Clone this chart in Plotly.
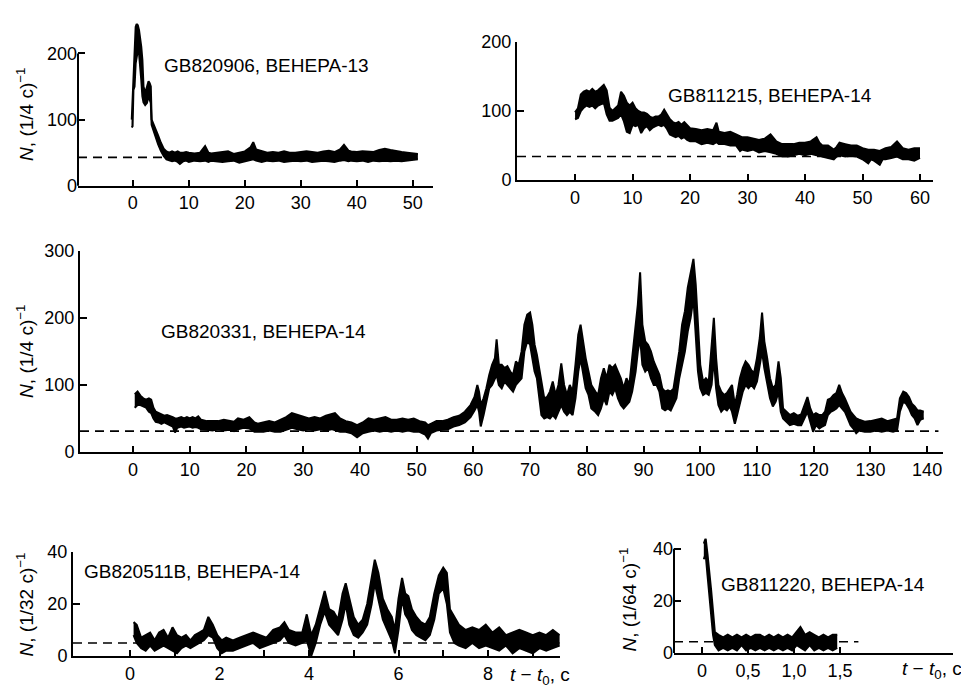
import plotly.graph_objects as go

# ---------------- data ----------------
# Panel 1: GB820906, ВЕНЕРА-13  (band: lower / upper envelope of the count rate)
T1 = [-0.2, -0.05, 0.1, 0.3, 0.5, 0.7, 0.9, 1.1, 1.3, 1.5,
      1.7, 1.9, 2.2, 2.5, 2.8, 3.0, 3.2, 3.35, 3.6, 4.0,
      4.5, 5.0, 5.5, 6.0, 6.5, 7.0, 7.5, 8.0, 8.4, 9.0,
      9.5, 10, 11, 12, 12.9, 13.5, 14, 15, 16, 17,
      18, 19, 20, 21, 21.5, 22, 23, 24, 25, 26,
      27, 28, 29, 30, 31, 32, 33, 34, 35, 36,
      37, 37.7, 38.5, 39, 40, 41, 42, 43, 44, 45,
      46, 47, 48, 49, 50, 50.9]
LO1 = [88, 90, 145, 150, 185, 200, 205, 200, 185, 160,
       135, 126, 122, 125, 135, 128, 125, 92, 85, 76,
       63, 53, 45, 40, 38, 37, 38, 36, 33, 37,
       38, 36, 38, 37, 38, 36, 38, 37, 36, 37,
       38, 35, 37, 38, 40, 38, 36, 38, 37, 38,
       36, 37, 38, 37, 38, 36, 37, 38, 37, 36,
       38, 39, 37, 38, 37, 38, 36, 38, 37, 38,
       37, 38, 37, 38, 38, 40]
HI1 = [100, 150, 160, 200, 240, 245, 242, 235, 225, 210,
       190, 150, 140, 148, 158, 155, 150, 100, 95, 88,
       76, 65, 56, 52, 50, 52, 50, 52, 50, 50,
       51, 50, 49, 50, 60, 50, 49, 50, 51, 52,
       48, 50, 52, 58, 66, 55, 52, 50, 51, 50,
       52, 50, 50, 51, 52, 51, 50, 52, 53, 51,
       55, 62, 53, 52, 51, 52, 52, 51, 54, 56,
       54, 52, 51, 50, 49, 48]
BG1 = 43

# Panel 2: GB811215, ВЕНЕРА-14
T2 = [0.0, 0.5, 1.0, 1.5, 2.0, 2.5, 3.0, 3.5, 4.0, 4.5,
      5.0, 5.5, 6.0, 6.5, 7.0, 7.5, 8.0, 8.5, 9.0, 9.5,
      10.0, 10.5, 11.0, 11.5, 12.0, 12.5, 13.0, 13.5, 14.0, 14.5,
      15.0, 15.5, 16.0, 16.5, 17.0, 17.5, 18.0, 18.5, 19.0, 19.5,
      20, 21, 22, 23, 24, 24.6, 25, 26, 27, 28,
      28.7, 29, 30, 31, 32, 33, 34, 35, 36, 37,
      38, 39, 40, 41, 42, 42.5, 43, 44, 45, 45.5,
      46, 47, 48, 49, 50, 51, 51.5, 52, 53, 53.5,
      54, 55, 56, 57, 58, 59, 60]
LO2 = [88, 90, 100, 105, 108, 106, 108, 104, 108, 110,
       112, 95, 86, 86, 88, 90, 95, 85, 70, 68,
       80, 78, 80, 68, 75, 78, 72, 76, 78, 80,
       78, 80, 74, 66, 64, 62, 64, 60, 62, 58,
       56, 56, 52, 54, 52, 55, 52, 52, 50, 50,
       42, 44, 42, 44, 40, 42, 40, 38, 34, 34,
       36, 38, 36, 38, 36, 36, 34, 32, 30, 34,
       36, 34, 35, 34, 30, 24, 30, 28, 22, 30,
       30, 32, 34, 30, 30, 28, 32]
HI2 = [98, 104, 124, 128, 130, 128, 132, 128, 130, 134,
       138, 130, 105, 100, 104, 108, 128, 122, 112, 108,
       112, 104, 100, 98, 98, 96, 92, 90, 92, 92,
       95, 102, 95, 88, 84, 82, 84, 80, 84, 80,
       75, 74, 72, 74, 72, 83, 70, 68, 70, 66,
       64, 62, 62, 60, 58, 60, 66, 56, 52, 52,
       52, 54, 54, 56, 62, 54, 50, 50, 44, 48,
       54, 52, 50, 50, 46, 44, 44, 44, 42, 44,
       46, 48, 56, 46, 44, 46, 46]
BG2 = 34

# Panel 3: GB820331, ВЕНЕРА-14
T3 = [0.3, 0.8, 1.3, 1.8, 2.3, 2.8, 3.2, 3.6, 4.0, 4.5,
      5.0, 5.5, 6.0, 6.5, 7.0, 7.4, 7.8, 8.5, 9.0, 9.5,
      10.0, 10.5, 11.0, 11.5, 12.0, 13, 14, 15, 16, 17,
      17.8, 18.5, 19.5, 20.5, 21.4, 22, 23, 24, 25, 26,
      27, 28, 29, 30, 31, 32, 33, 34, 35, 35.6,
      36.5, 37.5, 38.5, 39.5, 40.5, 41.5, 42.5, 43.5, 44.5, 45.5,
      46.5, 47.5, 48.5, 49.5, 50.5, 51.5, 52.0, 52.5, 53.5, 54.5,
      55.5, 56.5, 57.5, 58.5, 59.5, 60.2, 60.7, 61.0, 61.3, 61.8,
      62.3, 62.8, 63.3, 63.8, 64.1, 64.5, 65.0, 65.5, 66.0, 66.5,
      67.0, 67.5, 68.0, 68.5, 69.0, 69.5, 70.0, 70.4, 70.8, 71.2,
      71.6, 72.0, 72.5, 73.0, 73.5, 74.0, 74.5, 75.0, 75.5, 76.0,
      76.5, 77.0, 77.5, 78.0, 78.5, 78.9, 79.3, 79.8, 80.3, 80.8,
      81.5, 82.0, 82.5, 83.0, 83.5, 84.0, 84.5, 85.0, 85.5, 86.0,
      86.5, 87.0, 87.5, 88.0, 88.6, 89.0, 89.4, 89.8, 90.3, 90.8,
      91.3, 91.8, 92.3, 92.8, 93.3, 93.8, 94.3, 94.8, 95.3, 95.8,
      96.3, 96.8, 97.3, 97.8, 98.3, 98.8, 99.2, 99.6, 100.0, 100.5,
      101.0, 101.5, 102.0, 102.4, 102.8, 103.2, 103.7, 104.2, 104.7, 105.2,
      105.6, 106.1, 106.5, 107.0, 107.5, 108.0, 108.5, 109.0, 109.5, 110.0,
      110.5, 110.9, 111.3, 111.8, 112.3, 112.8, 113.3, 113.8, 114.2, 114.6,
      115.2, 115.8, 116.5, 117.2, 117.8, 118.4, 118.9, 119.4, 119.9, 120.4,
      121.0, 121.5, 122.0, 122.5, 123.0, 123.5, 124.0, 124.5, 125.0, 125.5,
      126.0, 126.5, 127.0, 127.5, 128.0, 129.0, 130.0, 131.0, 132.0, 133.0,
      134.0, 134.7, 135.2, 135.8, 136.3, 136.8, 137.3, 137.8, 138.3, 138.8,
      139.4]
LO3 = [66, 70, 70, 68, 66, 60, 58, 50, 45, 44,
       42, 44, 42, 40, 38, 29, 36, 38, 36, 37,
       38, 36, 37, 36, 34, 33, 32, 34, 32, 33,
       31, 34, 36, 35, 30, 30, 30, 32, 30, 30,
       33, 36, 34, 32, 34, 32, 34, 32, 34, 32,
       30, 30, 28, 22, 28, 30, 32, 30, 32, 30,
       32, 30, 32, 30, 30, 26, 20, 28, 32, 33,
       34, 38, 40, 44, 52, 62, 70, 60, 38, 55,
       75, 95, 100, 110, 115, 100, 95, 105, 100, 95,
       90, 100, 105, 110, 150, 165, 160, 140, 120, 110,
       85, 55, 50, 52, 50, 55, 50, 60, 70, 60,
       55, 60, 55, 80, 120, 140, 120, 95, 85, 65,
       60, 55, 65, 80, 70, 90, 85, 95, 80, 70,
       65, 70, 75, 90, 120, 150, 170, 130, 120, 125,
       110, 100, 100, 90, 65, 62, 65, 62, 70, 80,
       110, 130, 150, 180, 200, 230, 170, 120, 95, 85,
       88, 85, 100, 140, 95, 70, 60, 65, 62, 68,
       60, 42, 55, 75, 90, 100, 95, 100, 95, 105,
       130, 150, 125, 100, 80, 68, 75, 90, 60, 50,
       45, 40, 42, 40, 40, 50, 60, 45, 30, 40,
       35, 38, 40, 55, 60, 62, 65, 70, 65, 60,
       50, 40, 35, 28, 32, 30, 30, 32, 30, 32,
       30, 32, 60, 75, 72, 65, 55, 50, 40, 48,
       50]
HI3 = [86, 90, 84, 80, 78, 80, 78, 66, 60, 58,
       56, 54, 55, 54, 52, 50, 50, 52, 50, 52,
       50, 52, 50, 53, 48, 46, 46, 46, 48, 46,
       45, 50, 48, 52, 44, 42, 44, 46, 44, 48,
       52, 58, 55, 52, 50, 52, 50, 54, 56, 58,
       50, 46, 44, 40, 44, 50, 48, 50, 52, 48,
       48, 50, 48, 50, 46, 44, 40, 42, 46, 46,
       48, 52, 54, 60, 70, 82, 100, 90, 70, 80,
       95, 115, 130, 140, 168, 130, 130, 125, 128, 120,
       115, 135, 130, 150, 190, 205, 208, 190, 160, 145,
       125, 100, 80, 82, 90, 105, 85, 100, 132, 100,
       85, 100, 90, 130, 175, 190, 165, 140, 120, 100,
       90, 85, 110, 125, 110, 130, 125, 130, 120, 110,
       95, 110, 100, 140, 180, 220, 268, 190, 165, 160,
       150, 135, 125, 115, 95, 90, 92, 90, 95, 120,
       150, 190, 210, 245, 265, 288, 250, 185, 130, 105,
       110, 105, 160, 200, 140, 100, 90, 85, 88, 95,
       100, 70, 85, 110, 125, 135, 130, 122, 118, 140,
       170, 208, 165, 140, 110, 95, 100, 135, 110, 65,
       60, 55, 58, 54, 56, 72, 82, 65, 55, 58,
       55, 55, 60, 78, 80, 85, 88, 100, 88, 80,
       70, 60, 55, 50, 48, 45, 46, 48, 50, 46,
       48, 50, 80, 90, 88, 82, 72, 68, 62, 62,
       60]
BG3 = 31

# Panel 4: GB820511B, ВЕНЕРА-14
T4 = [0.08, 0.15, 0.25, 0.35, 0.45, 0.55, 0.65, 0.75, 0.85, 0.95,
      1.05, 1.15, 1.25, 1.35, 1.45, 1.55, 1.65, 1.75, 1.85, 1.95,
      2.05, 2.15, 2.3, 2.45, 2.6, 2.75, 2.9, 3.05, 3.2, 3.35,
      3.45, 3.55, 3.7, 3.85, 3.95, 4.05, 4.15, 4.25, 4.35, 4.45,
      4.55, 4.65, 4.75, 4.82, 4.9, 5.0, 5.1, 5.2, 5.3, 5.4,
      5.47, 5.55, 5.65, 5.75, 5.85, 5.92, 6.0, 6.08, 6.15, 6.22,
      6.3, 6.4, 6.5, 6.6, 6.7, 6.8, 6.9, 7.0, 7.08, 7.15,
      7.25, 7.35, 7.5, 7.65, 7.8, 7.95, 8.1, 8.25, 8.4, 8.55,
      8.7, 8.85, 9.0, 9.15, 9.3, 9.45, 9.6]
LO4 = [8, 5, 3, 2, 4, 2, 3, 4, 3, 2,
       1, 3, 4, 3, 4, 5, 6, 8, 7, 3,
       1, 2, 2, 3, 4, 5, 3, 4, 5, 6,
       8, 5, 4, 5, 6, 0, 5, 12, 17, 12,
       10, 8, 14, 20, 12, 8, 7, 9, 12, 20,
       28, 22, 14, 10, 6, 1, 10, 22, 16, 14,
       10, 8, 7, 6, 8, 14, 24, 26, 20, 9,
       5, 4, 3, 5, 3, 4, 3, 2, 4, 1,
       3, 2, 1, 3, 2, 3, 4]
HI4 = [13, 12, 7, 8, 9, 6, 9, 10, 7, 11,
       8, 7, 8, 6, 8, 9, 10, 15, 12, 8,
       6, 7, 6, 7, 8, 9, 8, 7, 10, 11,
       13, 10, 9, 9, 16, 8, 12, 19, 25, 18,
       17, 14, 24, 28, 22, 15, 12, 14, 20, 30,
       37, 32, 22, 18, 15, 10, 22, 30, 24, 23,
       18, 15, 13, 12, 15, 24, 31, 34, 32, 18,
       15, 12, 10, 11, 10, 12, 9, 11, 8, 9,
       10, 9, 8, 9, 8, 10, 8]
BG4 = 5

# Panel 5: GB811220, ВЕНЕРА-14
T5 = [0.02, 0.04, 0.06, 0.08, 0.10, 0.12, 0.14, 0.18, 0.23, 0.28,
      0.33, 0.38, 0.43, 0.48, 0.53, 0.58, 0.63, 0.68, 0.73, 0.78,
      0.83, 0.88, 0.93, 0.98, 1.03, 1.07, 1.12, 1.17, 1.22, 1.27,
      1.32, 1.37, 1.42, 1.47]
LO5 = [36, 38, 30, 22, 14, 7, 3, 1, 2, 1,
       2, 1, 3, 1, 2, 1, 2, 1, 2, 1,
       2, 1, 2, 1, 3, 2, 1, 3, 1, 2,
       1, 2, 1, 2]
HI5 = [42, 44, 38, 32, 24, 16, 8, 7, 6, 7,
       6, 7, 6, 7, 6, 7, 7, 6, 7, 6,
       7, 6, 7, 6, 8, 10, 7, 8, 7, 6,
       7, 6, 7, 7]
BG5 = 4.3

TITLES = ["GB820906, ВЕНЕРА-13", "GB811215, ВЕНЕРА-14", "GB820331, ВЕНЕРА-14",
          "GB820511B, ВЕНЕРА-14", "GB811220, ВЕНЕРА-14"]
YTITLES = ["<i>N</i>, (1/4 c)<sup>−1</sup>", None, "<i>N</i>, (1/4 c)<sup>−1</sup>",
           "<i>N</i>, (1/32 c)<sup>−1</sup>", "<i>N</i>, (1/64 c)<sup>−1</sup>"]
XTICKS1 = [0, 10, 20, 30, 40, 50]
XTICKS2 = [0, 10, 20, 30, 40, 50, 60]
XTICKS3 = [0, 10, 20, 30, 40, 50, 60, 70, 80, 90, 100, 110, 120, 130, 140]
XTICKS4 = [0, 2, 4, 6, 8]
XMINOR4 = [1, 3, 5, 7, 9]
XTICKS5 = [0, 0.5, 1.0, 1.5]
XTEXT5 = ["0", "0,5", "1,0", "1,5"]

for a, b, c in [(T1, LO1, HI1), (T2, LO2, HI2), (T3, LO3, HI3), (T4, LO4, HI4), (T5, LO5, HI5)]:
    assert len(a) == len(b) == len(c), (len(a), len(b), len(c))

# ---------------- layout geometry (pixels of a 961x697 page) ----------------
W, H = 961, 697
FONT = "Liberation Sans, Arial, sans-serif"
TICKSIZE = 18

def fx(p):
    return p / W

def fy(p):
    return 1 - p / H

panels = [
    dict(T=T1, LO=LO1, HI=HI1, bg=BG1, bgend=51, xpx=(78, 433), ypx=(181, 14),
         xr=(-9.8, 53.6), yr=(0, 245), yaxtop=200, xt=XTICKS1, xtt=None, minor=None, yt=[0, 100, 200]),
    dict(T=T2, LO=LO2, HI=HI2, bg=BG2, bgend=60, xpx=(517, 933), ypx=(175, 33),
         xr=(-10.1, 62.26), yr=(0, 200), yaxtop=200, xt=XTICKS2, xtt=None, minor=None, yt=[0, 100, 200]),
    dict(T=T3, LO=LO3, HI=HI3, bg=BG3, bgend=142, xpx=(80, 943), ypx=(455, 248),
         xr=(-9.35, 142.8), yr=(0, 300), yaxtop=300, xt=XTICKS3, xtt=None, minor=None, yt=[0, 100, 200, 300]),
    dict(T=T4, LO=LO4, HI=HI4, bg=BG4, bgend=9.6, xpx=(73, 560), ypx=(665, 558),
         xr=(-1.274, 9.609), yr=(0, 40), yaxtop=40, xt=XTICKS4, xtt=None, minor=XMINOR4, yt=[0, 20, 40]),
    dict(T=T5, LO=LO5, HI=HI5, bg=BG5, bgend=1.7, xpx=(674, 953), ypx=(662, 544),
         xr=(-0.304, 2.728), yr=(0, 44), yaxtop=40, xt=XTICKS5, xtt=XTEXT5, minor=None, yt=[0, 20, 40]),
]

fig = go.Figure()
shapes = []
layout = dict(
    width=W, height=H, margin=dict(l=0, r=0, t=0, b=0),
    paper_bgcolor="white", plot_bgcolor="rgba(0,0,0,0)", showlegend=False,
    font=dict(family=FONT, size=TICKSIZE, color="black"),
)

for i, p in enumerate(panels, start=1):
    xa = "x" if i == 1 else f"x{i}"
    ya = "y" if i == 1 else f"y{i}"
    xd = [fx(p["xpx"][0]), fx(p["xpx"][1])]
    yd = [fy(p["ypx"][0]), fy(p["ypx"][1])]
    fig.add_trace(go.Scatter(x=p["T"], y=p["LO"], mode="lines", xaxis=xa, yaxis=ya,
                             line=dict(color="black", width=2), hoverinfo="skip"))
    fig.add_trace(go.Scatter(x=p["T"], y=p["HI"], mode="lines", xaxis=xa, yaxis=ya,
                             fill="tonexty", fillcolor="black",
                             line=dict(color="black", width=2), hoverinfo="skip"))
    xkw = dict(domain=xd, range=list(p["xr"]), anchor=ya, showgrid=False, zeroline=False,
               showline=True, linecolor="black", linewidth=2,
               ticks="inside", ticklen=6, tickwidth=1.5, tickcolor="black",
               tickmode="array", tickvals=p["xt"],
               tickfont=dict(family=FONT, size=TICKSIZE, color="black"))
    if p["xtt"] is not None:
        xkw["ticktext"] = p["xtt"]
    if p["minor"] is not None:
        xkw["minor"] = dict(tickmode="array", tickvals=p["minor"], ticks="inside",
                            ticklen=6, tickwidth=1.5, tickcolor="black", showgrid=False)
    top_is_axis = p["yaxtop"] >= p["yr"][1]
    ykw = dict(domain=yd, range=list(p["yr"]), anchor=xa, showgrid=False, zeroline=False,
               showline=top_is_axis, linecolor="black", linewidth=2,
               ticks="inside", ticklen=7, tickwidth=1.5, tickcolor="black",
               tickmode="array", tickvals=p["yt"],
               tickfont=dict(family=FONT, size=TICKSIZE, color="black"))
    layout["xaxis" if i == 1 else f"xaxis{i}"] = xkw
    layout["yaxis" if i == 1 else f"yaxis{i}"] = ykw
    if not top_is_axis:
        ytop_frac = yd[0] + (p["yaxtop"] - p["yr"][0]) / (p["yr"][1] - p["yr"][0]) * (yd[1] - yd[0])
        shapes.append(dict(type="line", xref="paper", yref="paper",
                           x0=xd[0], x1=xd[0], y0=yd[0], y1=ytop_frac,
                           line=dict(color="black", width=2)))
    # dashed background level
    shapes.append(dict(type="line", xref=xa, yref=ya, layer="below",
                       x0=p["xr"][0], x1=p["bgend"], y0=p["bg"], y1=p["bg"],
                       line=dict(color="black", width=1.6, dash="9px,6px")))

annotations = []
# burst titles
title_pos = [(266, 57, "center"), (770, 88, "center"), (263, 331, "center"),
             (82, 578, "left"), (823, 591, "center")]
for (x, y, anc), txt in zip(title_pos, TITLES):
    annotations.append(dict(text=txt, xref="paper", yref="paper", x=fx(x), y=fy(y),
                            xanchor=anc, yanchor="middle", showarrow=False,
                            font=dict(family=FONT, size=19, color="black")))
# y-axis titles
ytitle_pos = [(25, 108), None, (25, 352), (25, 612), (628, 607)]
for pos, txt in zip(ytitle_pos, YTITLES):
    if txt is None:
        continue
    annotations.append(dict(text=txt, xref="paper", yref="paper", x=fx(pos[0]), y=fy(pos[1]),
                            xanchor="center", yanchor="middle", textangle=-90, showarrow=False,
                            font=dict(family=FONT, size=19, color="black")))
# x-axis titles
for x, y in [(540, 686), (932, 680)]:
    annotations.append(dict(text="<i>t</i> − <i>t</i><sub>0</sub>, c", xref="paper", yref="paper",
                            x=fx(x), y=fy(y), xanchor="center", yanchor="middle",
                            showarrow=False, font=dict(family=FONT, size=19, color="black")))

layout["shapes"] = shapes
layout["annotations"] = annotations
fig.update_layout(**layout)
fig.write_html("out.html")
